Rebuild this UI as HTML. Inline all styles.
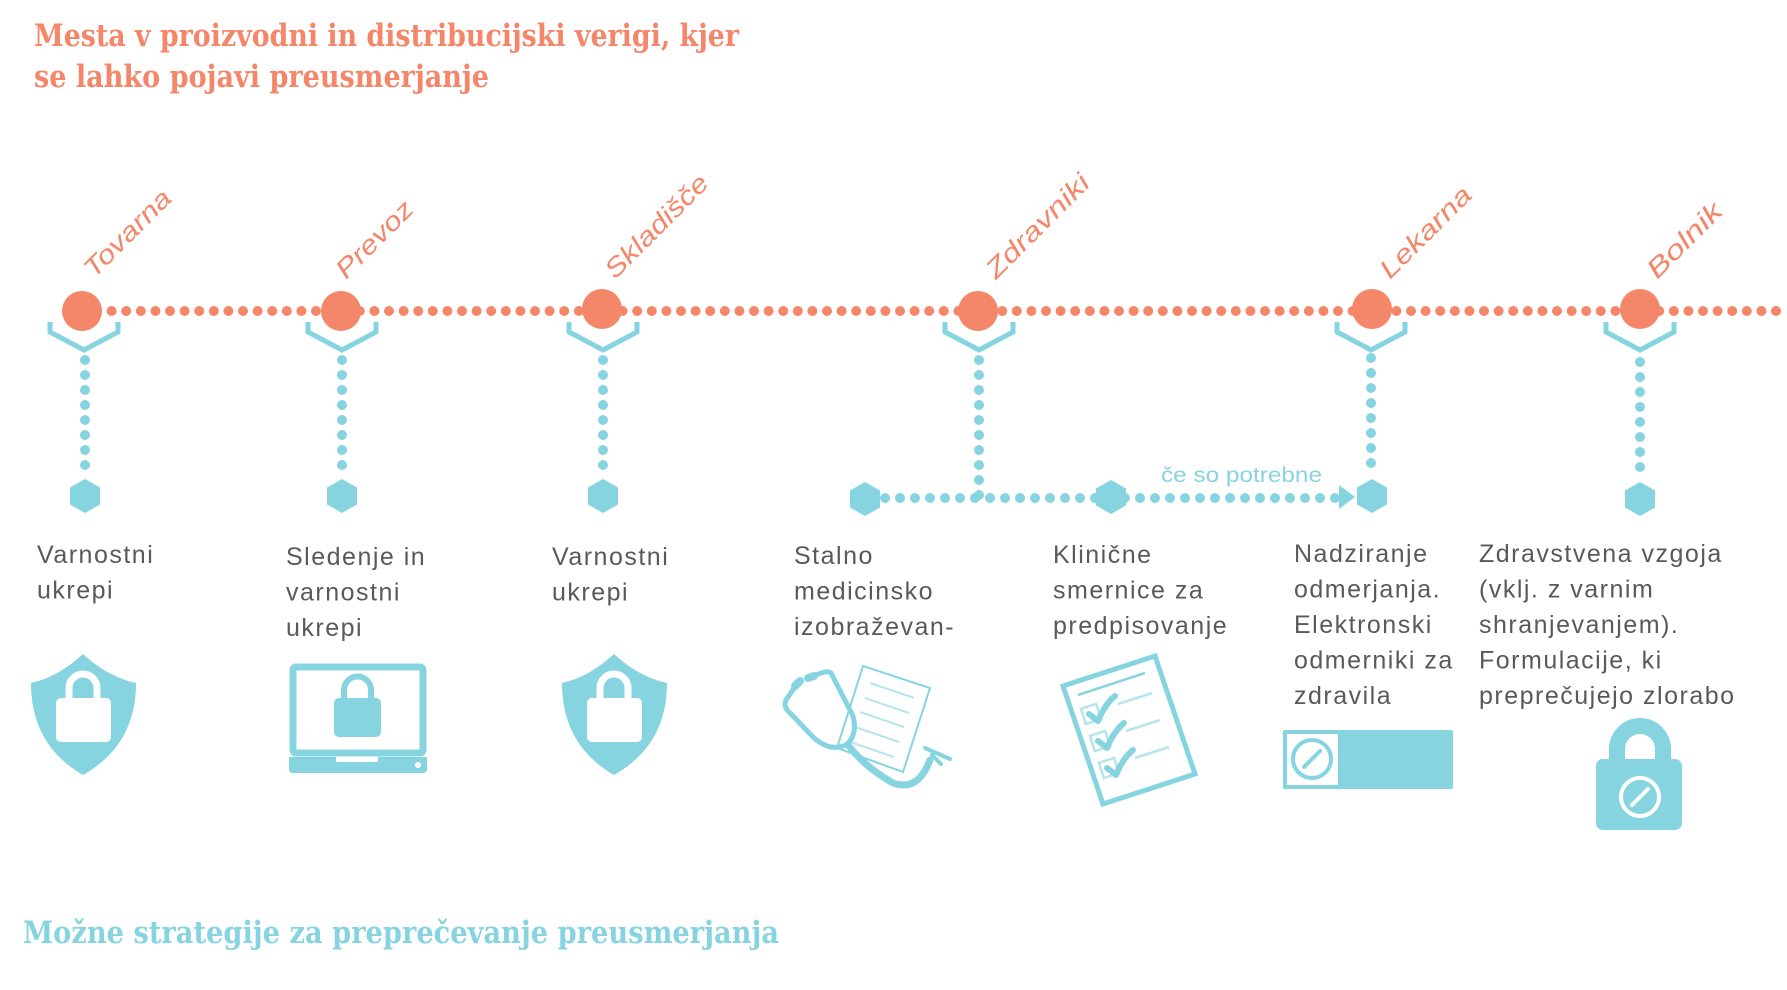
<!DOCTYPE html>
<html><head><meta charset="utf-8"><style>
html,body{margin:0;padding:0;background:#fff;}
svg{display:block;}
.t{font-family:"Liberation Sans",sans-serif;font-size:25px;fill:#58595b;letter-spacing:1.5px;}
.st{font-family:"Liberation Sans",sans-serif;font-style:italic;font-size:26px;fill:#f4876a;}
.h{font-family:"DejaVu Serif","Liberation Serif",serif;font-size:31px;font-weight:bold;}
</style></head><body>
<svg width="1787" height="990" viewBox="0 0 1787 990" xmlns="http://www.w3.org/2000/svg">
<defs>
<g id="hex"><polygon points="0,-17 15,-8.5 15,8.5 0,17 -15,8.5 -15,-8.5" fill="#87d4e1"/></g>
</defs>
<text class="h" x="34" y="46" fill="#f4876a" textLength="705" lengthAdjust="spacingAndGlyphs">Mesta v proizvodni in distribucijski verigi, kjer</text>
<text class="h" x="34" y="87" fill="#f4876a" textLength="455" lengthAdjust="spacingAndGlyphs">se lahko pojavi preusmerjanje</text>
<text class="h" x="23" y="943" fill="#87d4e1" textLength="756" lengthAdjust="spacingAndGlyphs">Možne strategije za preprečevanje preusmerjanja</text>

<line x1="97" y1="311" x2="1787" y2="311" stroke="#f4876a" stroke-width="10" stroke-linecap="round" stroke-dasharray="0 14.6"/>
<g fill="#f4876a">
<circle cx="82" cy="311" r="20"/><circle cx="341" cy="311" r="20"/><circle cx="602" cy="309" r="20"/>
<circle cx="978" cy="311" r="20"/><circle cx="1372" cy="309" r="20"/><circle cx="1640" cy="309" r="20"/>
</g>
<text class="st" transform="translate(94,279) rotate(-45)" textLength="112" lengthAdjust="spacingAndGlyphs">Tovarna</text>
<text class="st" transform="translate(346,280) rotate(-45)" textLength="98" lengthAdjust="spacingAndGlyphs">Prevoz</text>
<text class="st" transform="translate(615,280) rotate(-45)" textLength="135" lengthAdjust="spacingAndGlyphs">Skladišče</text>
<text class="st" transform="translate(996,280) rotate(-45)" textLength="135" lengthAdjust="spacingAndGlyphs">Zdravniki</text>
<text class="st" transform="translate(1390,280) rotate(-45)" textLength="118" lengthAdjust="spacingAndGlyphs">Lekarna</text>
<text class="st" transform="translate(1657,280) rotate(-45)" textLength="95" lengthAdjust="spacingAndGlyphs">Bolnik</text>

<g fill="none" stroke="#87d4e1" stroke-width="5">
<polyline points="50,322 50,332 84,350 118,332 118,322"/>
<polyline points="308,322 308,332 342,350 376,332 376,322"/>
<polyline points="569,322 569,332 603,350 637,332 637,322"/>
<polyline points="945,322 945,332 979,350 1013,332 1013,322"/>
<polyline points="1337,322 1337,332 1371,350 1405,332 1405,322"/>
<polyline points="1606,322 1606,332 1640,350 1674,332 1674,322"/>
</g>
<g stroke="#87d4e1" stroke-width="10" stroke-linecap="round" stroke-dasharray="0 15">
<line x1="85" y1="360" x2="85" y2="468"/>
<line x1="342" y1="360" x2="342" y2="468"/>
<line x1="603" y1="360" x2="603" y2="468"/>
<line x1="979" y1="360" x2="979" y2="498"/>
<line x1="1371" y1="358" x2="1371" y2="466"/>
<line x1="1640" y1="362" x2="1640" y2="470"/>
<line x1="885" y1="498" x2="1345" y2="498"/>
</g>
<polygon points="1339,485 1355,497 1339,509" fill="#87d4e1"/>
<use href="#hex" x="85" y="496"/><use href="#hex" x="342" y="496"/><use href="#hex" x="603" y="496"/>
<use href="#hex" x="865" y="499"/><use href="#hex" x="1111" y="497"/><use href="#hex" x="1372" y="496"/><use href="#hex" x="1640" y="499"/>
<text x="1161" y="482" font-family="Liberation Sans, sans-serif" font-size="21" fill="#87d4e1" textLength="161" lengthAdjust="spacingAndGlyphs">če so potrebne</text>

<text class="t" y="563"><tspan x="37">Varnostni</tspan><tspan x="37" dy="35.5">ukrepi</tspan></text>
<text class="t" y="565"><tspan x="286">Sledenje in</tspan><tspan x="286" dy="35.5">varnostni</tspan><tspan x="286" dy="35.5">ukrepi</tspan></text>
<text class="t" y="565"><tspan x="552">Varnostni</tspan><tspan x="552" dy="35.5">ukrepi</tspan></text>
<text class="t" y="564"><tspan x="794">Stalno</tspan><tspan x="794" dy="35.5">medicinsko</tspan><tspan x="794" dy="35.5">izobraževan-</tspan></text>
<text class="t" y="563"><tspan x="1053">Klinične</tspan><tspan x="1053" dy="35.5">smernice za</tspan><tspan x="1053" dy="35.5">predpisovanje</tspan></text>
<text class="t" y="562"><tspan x="1294">Nadziranje</tspan><tspan x="1294" dy="35.5">odmerjanja.</tspan><tspan x="1294" dy="35.5">Elektronski</tspan><tspan x="1294" dy="35.5">odmerniki za</tspan><tspan x="1294" dy="35.5">zdravila</tspan></text>
<text class="t" y="562"><tspan x="1479">Zdravstvena vzgoja</tspan><tspan x="1479" dy="35.5">(vklj. z varnim</tspan><tspan x="1479" dy="35.5">shranjevanjem).</tspan><tspan x="1479" dy="35.5">Formulacije, ki</tspan><tspan x="1479" dy="35.5">preprečujejo zlorabo</tspan></text>

<g id="shield">
<path d="M83,654 Q108,677 136,683 Q136,745 83,775 Q31,745 31,683 Q58,677 83,654 Z" fill="#87d4e1"/>
<path d="M69,700 V688 A14,14 0 0 1 97,688 V700" fill="none" stroke="#fff" stroke-width="7"/>
<rect x="56" y="698" width="55" height="44" rx="5" fill="#fff"/>
</g>
<use href="#shield" x="531" y="0"/>
<rect x="293" y="667" width="130" height="86" rx="3" fill="none" stroke="#87d4e1" stroke-width="7"/>
<path d="M289,757 H336 V762 H378 V757 H427 V769 Q427,773 423,773 H293 Q289,773 289,769 Z" fill="#87d4e1"/>
<circle cx="418" cy="765" r="3" fill="#fff"/>
<path d="M344,700 V690 A13.5,13.5 0 0 1 371,690 V700" fill="none" stroke="#87d4e1" stroke-width="6"/>
<rect x="334" y="698" width="47" height="39" rx="5" fill="#87d4e1"/>
<polygon points="863,666 930,688 903,772 837,748" fill="#fff" stroke="#87d4e1" stroke-width="2"/>
<g stroke="#b5e5ed" stroke-width="2">
<line x1="870" y1="683" x2="914" y2="698"/><line x1="865" y1="698" x2="909" y2="713"/>
<line x1="860" y1="712" x2="904" y2="727"/><line x1="855" y1="727" x2="899" y2="742"/><line x1="850" y1="742" x2="894" y2="757"/>
</g>
<g fill="none" stroke="#87d4e1" stroke-linecap="round">
<path d="M797,684 L786,700 Q783,707 790,713 L814,738 Q830,752 846,745 Q858,735 853,716 L831,673 Q827,669 810,678" stroke-width="5"/>
<path d="M848,745 Q866,768 893,783 Q918,792 930,760" stroke-width="7"/>
<path d="M925,748 L950,759 M932,755 L941,764" stroke-width="4"/>
<line x1="795" y1="686" x2="800" y2="681" stroke-width="8"/>
<line x1="808" y1="678" x2="814" y2="676" stroke-width="8"/>
</g>
<polygon points="1063,686 1155,656 1195,774 1103,804" fill="#fff" stroke="#87d4e1" stroke-width="5"/>
<line x1="1078" y1="695" x2="1145" y2="673" stroke="#87d4e1" stroke-width="2.5"/>
<g stroke="#b5e5ed" stroke-width="2.5" fill="none">
<line x1="1118" y1="704" x2="1152" y2="693"/><line x1="1126" y1="731" x2="1160" y2="720"/><line x1="1135" y1="758" x2="1169" y2="747"/>
<rect x="1083" y="706" width="16" height="16" transform="rotate(-18 1091 714)"/>
<rect x="1092" y="733" width="16" height="16" transform="rotate(-18 1100 741)"/>
<rect x="1101" y="760" width="16" height="16" transform="rotate(-18 1109 768)"/>
</g>
<g stroke="#87d4e1" stroke-width="6" fill="none" stroke-linecap="round" stroke-linejoin="round">
<path d="M1089,714 L1098,721 Q1105,704 1115,696"/>
<path d="M1098,741 L1107,748 Q1114,731 1124,723"/>
<path d="M1107,768 L1116,775 Q1123,758 1133,750"/>
</g>
<rect x="1283" y="730" width="170" height="59" rx="2" fill="#87d4e1"/>
<rect x="1287" y="734" width="51" height="51" fill="#fff"/>
<circle cx="1312" cy="759" r="19" fill="none" stroke="#87d4e1" stroke-width="4"/>
<line x1="1304" y1="767" x2="1320" y2="751" stroke="#87d4e1" stroke-width="4" stroke-linecap="round"/>
<path d="M1617,762 V749 A23,23 0 0 1 1663,749 V762" fill="none" stroke="#87d4e1" stroke-width="16"/>
<rect x="1596" y="759" width="86" height="71" rx="7" fill="#87d4e1"/>
<circle cx="1640" cy="797" r="19" fill="none" stroke="#fff" stroke-width="4"/>
<line x1="1632" y1="805" x2="1648" y2="789" stroke="#fff" stroke-width="4" stroke-linecap="round"/>
</svg>
</body></html>
